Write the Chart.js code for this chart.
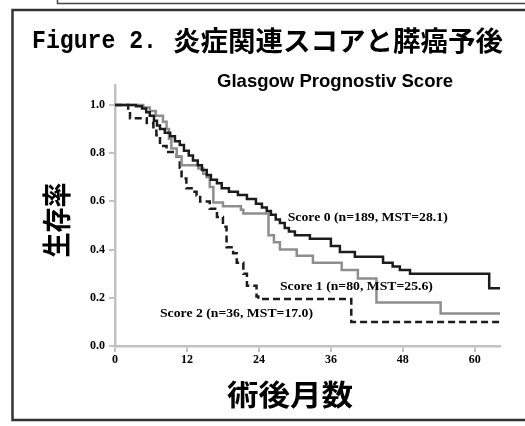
<!DOCTYPE html>
<html>
<head>
<meta charset="utf-8">
<script src="https://cdn.jsdelivr.net/npm/chart.js@4/dist/chart.umd.min.js"></script>
<style>
  html, body { margin: 0; padding: 0; background: #fff; }
  canvas { display: block; }
</style>
</head>
<body>
<canvas id="c" width="525" height="426"></canvas>
<script>
// ---- Data (months after surgery, survival rate) ----
const score0Months = [0, 3.5, 4.5, 5.2, 5.8, 6.5, 7.0, 7.5, 8.3, 9.2, 10.0, 10.8, 11.5, 12.3, 13.0, 13.8, 14.5, 15.3, 16.0, 17.0, 17.8, 19.0, 20.5, 22.0, 23.5, 24.5, 25.3, 26.0, 26.8, 27.5, 28.3, 29.0, 30.0, 32.5, 36.0, 37.5, 40.0, 44.7, 46.3, 47.5, 49.2, 62.4, 64.2];
const score0Surv   = [1.0, 0.995, 0.985, 0.97, 0.955, 0.935, 0.915, 0.90, 0.885, 0.87, 0.85, 0.834, 0.81, 0.79, 0.77, 0.75, 0.73, 0.71, 0.69, 0.675, 0.655, 0.64, 0.627, 0.61, 0.59, 0.575, 0.56, 0.545, 0.525, 0.51, 0.49, 0.475, 0.46, 0.445, 0.415, 0.39, 0.37, 0.345, 0.33, 0.315, 0.30, 0.24, 0.24];

const score1Months = [0, 4.7, 5.8, 6.8, 8.0, 8.6, 9.0, 9.4, 10.3, 11.1, 13.9, 14.7, 15.3, 15.8, 16.4, 18.0, 21.0, 21.4, 25.6, 26.5, 27.5, 30.3, 33.0, 37.8, 40.5, 43.6, 54.3, 64.2];
const score1Surv   = [1.0, 0.99, 0.975, 0.955, 0.93, 0.90, 0.86, 0.82, 0.786, 0.75, 0.737, 0.715, 0.70, 0.66, 0.595, 0.58, 0.565, 0.55, 0.46, 0.43, 0.40, 0.375, 0.345, 0.315, 0.28, 0.18, 0.135, 0.135];

const score2Months = [0, 2.2, 2.5, 5.3, 6.4, 6.9, 7.5, 8.6, 10.3, 10.8, 11.1, 11.9, 13.0, 13.6, 14.2, 15.8, 17.0, 18.0, 18.6, 19.7, 20.3, 21.4, 22.0, 23.6, 23.9, 39.4, 64.2];
const score2Surv   = [1.0, 0.975, 0.945, 0.925, 0.90, 0.875, 0.83, 0.805, 0.785, 0.74, 0.695, 0.655, 0.64, 0.625, 0.60, 0.57, 0.535, 0.495, 0.41, 0.385, 0.345, 0.30, 0.25, 0.205, 0.195, 0.10, 0.10];

const seriesLabels = ["Score 0 (n=189, MST=28.1)", "Score 1 (n=80, MST=25.6)", "Score 2 (n=36, MST=17.0)"];
// label anchors in data units (month, survival)
const labelMonths = [28.8, 27.5, 7.5];
const labelSurv   = [0.531, 0.245, 0.133];

const xTickValues = [0, 12, 24, 36, 48, 60];
const yTickValues = [0.0, 0.2, 0.4, 0.6, 0.8, 1.0];

const titleLatin = "Figure 2.";
const titleJa = "炎症関連スコアと膵癌予後";
const subtitleText = "Glasgow Prognostiv Score";
const yTitle = "生存率";
const xTitle = "術後月数";

const toXY = (xs, ys) => xs.map((x, i) => ({ x: x, y: ys[i] }));

function fitText(ctx, text, font, x, y, w, baseline) {
  ctx.save();
  ctx.font = font;
  ctx.textAlign = 'left';
  ctx.textBaseline = baseline || 'middle';
  const m = ctx.measureText(text).width;
  ctx.translate(x, y);
  ctx.scale(w / m, 1);
  ctx.fillText(text, 0, 0);
  ctx.restore();
}

const decor = {
  id: 'decor',
  beforeDraw(chart) {
    const ctx = chart.ctx;
    ctx.save();
    ctx.fillStyle = '#fff';
    ctx.fillRect(0, 0, chart.width, chart.height);
    // upper box fragment
    ctx.strokeStyle = '#444';
    ctx.lineWidth = 1.5;
    ctx.beginPath();
    ctx.moveTo(57.5, 0); ctx.lineTo(57.5, 3.5); ctx.lineTo(525, 3.5);
    ctx.stroke();
    // main frame
    ctx.strokeStyle = '#333';
    ctx.lineWidth = 2.5;
    ctx.beginPath();
    ctx.moveTo(527, 10); ctx.lineTo(12.5, 10); ctx.lineTo(12.5, 420); ctx.lineTo(527, 420);
    ctx.stroke();
    ctx.restore();
  },
  afterDraw(chart) {
    const ctx = chart.ctx;
    const xs = chart.scales.x, ys = chart.scales.y;
    ctx.save();
    ctx.fillStyle = '#000';
    // title
    fitText(ctx, titleLatin, 'bold 26px "Liberation Mono", "DejaVu Sans Mono", monospace', 32, 41, 125);
    fitText(ctx, titleJa, 'bold 27px "Noto Sans CJK JP"', 173, 41, 330);
    // subtitle
    fitText(ctx, subtitleText, 'bold 19px "Liberation Sans", Arial, sans-serif', 217, 86.5, 236, 'alphabetic');
    // x axis title
    fitText(ctx, xTitle, 'bold 29px "Noto Sans CJK JP"', 227, 395, 126);
    // y axis title (rotated)
    ctx.save();
    ctx.translate(57, 220);
    ctx.rotate(-Math.PI / 2);
    fitText(ctx, yTitle, 'bold 29px "Noto Sans CJK JP"', -37.5, 0, 75);
    ctx.restore();
    // series labels
    const widths = [160, 153, 153];
    seriesLabels.forEach((t, i) => {
      const px = xs.getPixelForValue(labelMonths[i]);
      const py = ys.getPixelForValue(labelSurv[i]);
      fitText(ctx, t, 'bold 13px "Liberation Serif", "Times New Roman", serif', px, py, widths[i]);
    });
    ctx.restore();
  }
};

const axisColor = '#c2c2c2';
const tickFont = { family: '"Liberation Serif", "Times New Roman", serif', size: 12, weight: 'bold' };

new Chart(document.getElementById('c'), {
  type: 'line',
  data: {
    datasets: [
      { label: seriesLabels[0], data: toXY(score0Months, score0Surv), borderColor: '#1c1c1c', borderWidth: 2.5, stepped: true, pointRadius: 0, fill: false },
      { label: seriesLabels[1], data: toXY(score1Months, score1Surv), borderColor: '#8e8e8e', borderWidth: 2.5, stepped: true, pointRadius: 0, fill: false },
      { label: seriesLabels[2], data: toXY(score2Months, score2Surv), borderColor: '#1c1c1c', borderWidth: 2.5, borderDash: [7, 4], stepped: true, pointRadius: 0, fill: false }
    ]
  },
  options: {
    responsive: false,
    animation: false,
    devicePixelRatio: 1,
    layout: { padding: { top: 85, right: 25, left: 0, bottom: 0 } },
    plugins: { legend: { display: false }, title: { display: false }, tooltip: { enabled: false } },
    scales: {
      x: {
        type: 'linear', min: 0, max: 64.2,
        afterBuildTicks: s => { s.ticks = xTickValues.map(v => ({ value: v })); },
        afterFit: s => { s.height = 80; },
        ticks: { font: tickFont, color: '#000', padding: 1, maxRotation: 0, callback: v => String(v) },
        grid: { drawOnChartArea: false, drawTicks: true, tickLength: 6, color: axisColor, lineWidth: 2 },
        border: { display: true, color: axisColor, width: 2.5 }
      },
      y: {
        type: 'linear', min: 0, max: 1.083,
        afterBuildTicks: s => { s.ticks = yTickValues.map(v => ({ value: v })); },
        afterFit: s => { s.width = 115; },
        ticks: { font: tickFont, color: '#000', padding: 4, callback: v => Number(v).toFixed(1) },
        grid: { drawOnChartArea: false, drawTicks: true, tickLength: 6, color: axisColor, lineWidth: 2 },
        border: { display: true, color: axisColor, width: 2.5 }
      }
    }
  },
  plugins: [decor]
});
</script>
</body>
</html>
